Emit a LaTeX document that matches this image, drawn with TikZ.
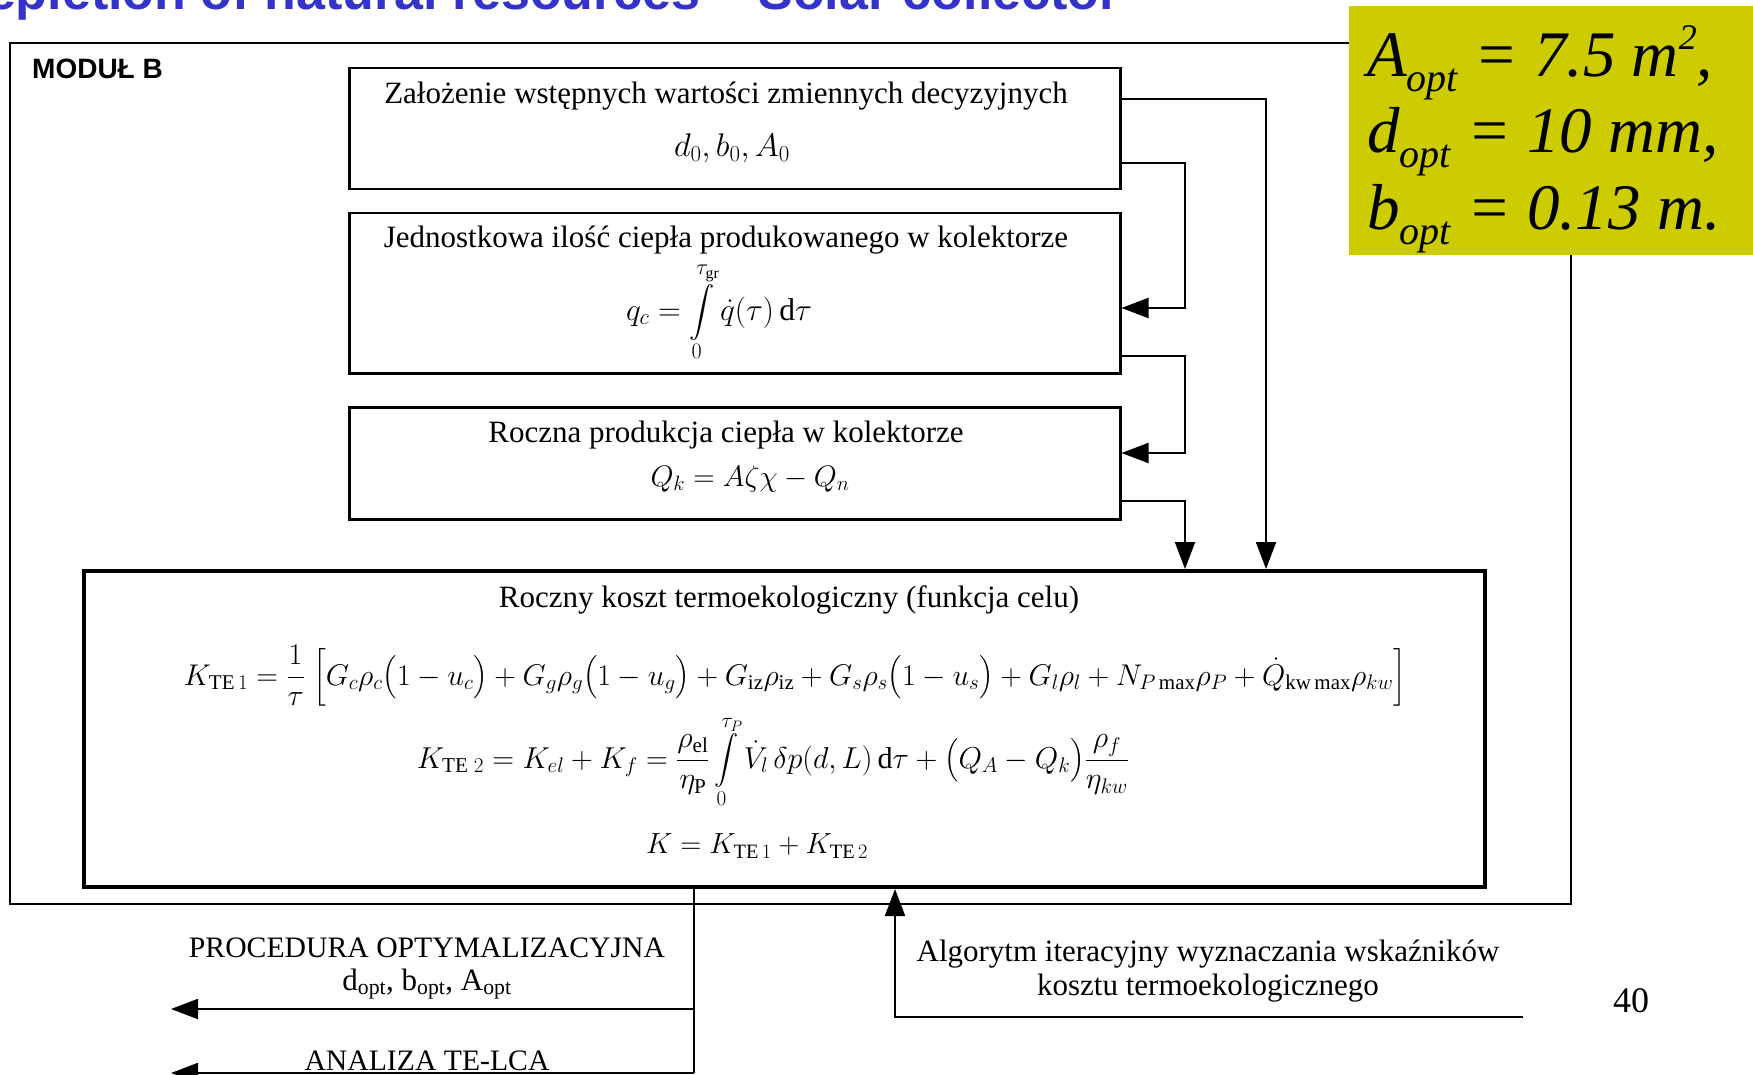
\RequirePackage{fix-cm}
\documentclass[tikz,border=0pt]{standalone}
\usepackage{amsmath}
\usepackage{fontspec}
\setmainfont{Liberation Serif}
\newfontfamily\arialfont{Liberation Sans}
\usetikzlibrary{arrows.meta,calc}
\definecolor{ybox}{RGB}{204,204,0}
\definecolor{titleblue}{RGB}{51,51,204}
\newcommand\optsub{\raisebox{-15pt}{\fontsize{40}{40}\selectfont opt}}
\newcommand\supTwo{\raisebox{27pt}{\fontsize{36}{36}\selectfont 2}}
\tikzset{
  boxnode/.style={draw, line width=2.5pt, anchor=north west, inner sep=0pt},
  conn/.style={line width=2pt},
  arr/.style={conn, -{Triangle[length=27pt,width=20pt]}},
  txt/.style={font=\fontsize{31}{37}\selectfont, inner sep=0pt},
  captxt/.style={font=\fontsize{29.7}{36}\selectfont, inner sep=0pt},
  mth/.style={font=\fontsize{31}{37}\selectfont, inner sep=0pt},
  ytxt/.style={font=\fontsize{65}{65}\selectfont\itshape, inner sep=0pt, anchor=base west},
}
\begin{document}
\begin{tikzpicture}[x=1pt,y=-1pt]
\useasboundingbox (0,0) rectangle (1753,1075);
\begin{scope}
\clip (0,0) rectangle (1753,1075);
% title (clipped at top)
\node[font=\arialfont\bfseries\fontsize{52}{60}\selectfont, text=titleblue, inner sep=0pt, anchor=base east] (title) at (1120,10) {Depletion of natural resources – Solar collector};
% module frame
\node[draw, line width=2pt, anchor=north west, minimum width=1561pt, minimum height=861pt, inner sep=0pt] (modul) at (9,42) {};
\node[font=\arialfont\bfseries\fontsize{28}{30}\selectfont, inner sep=0pt, anchor=base west] (mlabel) at (32,79) {MODUŁ B};
% result box
\node[fill=ybox, anchor=north west, minimum width=404pt, minimum height=249pt, inner sep=0pt] (res) at (1349,6) {};
\node[ytxt] (r1) at (1367,77) {A\optsub\ = 7.5 m\supTwo,};
\node[ytxt] (r2) at (1367,153) {d\optsub\ = 10 mm,};
\node[ytxt] (r3) at (1367,230) {b\optsub\ = 0.13 m.};
% boxes
\node[boxnode, minimum width=771pt, minimum height=121pt] (b1) at (348,67) {};
\node[boxnode, minimum width=771pt, minimum height=160pt] (b2) at (348,212) {};
\node[boxnode, minimum width=771pt, minimum height=112pt] (b3) at (348,406) {};
\node[boxnode, line width=4pt, minimum width=1401pt, minimum height=316pt] (b4) at (82,569) {};
% box texts
\node[txt] (t1) at (726,96) {Założenie wstępnych wartości zmiennych decyzyjnych};
\node[mth] (f1) at (732,148) {\resizebox{116pt}{!}{$d_0, b_0, A_0$}};
\node[txt] (t2) at (726,240) {Jednostkowa ilość ciepła produkowanego w kolektorze};
\node[mth] (f2) at (719,312) {\resizebox{186pt}{!}{$\displaystyle q_c = \int\limits_0^{\tau_{\mathrm{gr}}} \dot q(\tau)\,\mathrm{d}\tau$}};
\node[txt] (t3) at (726,435) {Roczna produkcja ciepła w kolektorze};
\node[mth] (f3) at (750,479) {\resizebox{199pt}{!}{$Q_k = A\zeta\chi - Q_n$}};
\node[txt] (t4) at (789,600) {Roczny koszt termoekologiczny (funkcja celu)};
\node[mth] (f4) at (795,676) {\resizebox{1222pt}{!}{$\displaystyle K_{\mathrm{TE}\,1} = \frac{1}{\tau}\;\Bigl[G_c\rho_c\bigl(1-u_c\bigr)+G_g\rho_g\bigl(1-u_g\bigr)+G_{\mathrm{iz}}\rho_{\mathrm{iz}}+G_s\rho_s\bigl(1-u_s\bigr)+G_l\rho_l+N_{P\,\mathrm{max}}\rho_P+\dot Q_{\mathrm{kw\,max}}\rho_{kw}\Bigr]$}};
\node[mth] (f5) at (773,762) {\resizebox{712pt}{!}{$\displaystyle K_{\mathrm{TE}\;2} = K_{el}+K_f = \frac{\rho_{\mathrm{el}}}{\eta_{\mathrm{P}}}\int\limits_0^{\tau_P}\dot V_l\,\delta p(d,L)\,\mathrm{d}\tau + \bigl(Q_A-Q_k\bigr)\frac{\rho_f}{\eta_{kw}}$}};
\node[mth] (f6) at (757,846) {\resizebox{222pt}{!}{$K = K_{\mathrm{TE}\,1}+K_{\mathrm{TE}\,2}$}};
% connectors between boxes
\coordinate (c1) at (1266,99);
\draw[arr] (b1.east |- c1) -- (c1) -- (c1 |- b4.north);
\coordinate (k1) at (1185,163);
\coordinate (k2) at (1185,308);
\draw[arr] (b1.east |- k1) -- (k1) -- (k2) -- (b2.east |- k2);
\coordinate (k3) at (1185,356);
\coordinate (k4) at (1185,453);
\draw[arr] (b2.east |- k3) -- (k3) -- (k4) -- (b3.east |- k4);
\coordinate (k5) at (1185,501);
\draw[arr] (b3.east |- k5) -- (k5) -- (k5 |- b4.north);
% bottom connectors
\coordinate (v1) at (694,1009);
\coordinate (v2) at (171,1009);
\coordinate (v3) at (694,1073);
\coordinate (v4) at (171,1073);
\draw[conn] (b4.south -| v1) -- (v3);
\draw[arr] (v1) -- (v2);
\draw[arr] (v3) -- (v4);
\coordinate (w1) at (1523,1017);
\coordinate (w2) at (895,1017);
\draw[arr] (w1) -- (w2) -- (w2 |- b4.south);
% bottom texts
\node[captxt] (proc) at (427,948) {PROCEDURA OPTYMALIZACYJNA};
\node[txt] (popt) at (427,984) {d\textsubscript{opt}, b\textsubscript{opt}, A\textsubscript{opt}};
\node[captxt, anchor=base] (lca) at (427,1070) {ANALIZA TE-LCA};
\node[txt] (alg1) at (1208,954) {Algorytm iteracyjny wyznaczania wskaźników};
\node[txt] (alg2) at (1208,988) {kosztu termoekologicznego};
\node[font=\fontsize{36}{40}\selectfont, inner sep=0pt, anchor=base west] (pg) at (1613,1012) {40};
\end{scope}
\end{tikzpicture}
\end{document}
